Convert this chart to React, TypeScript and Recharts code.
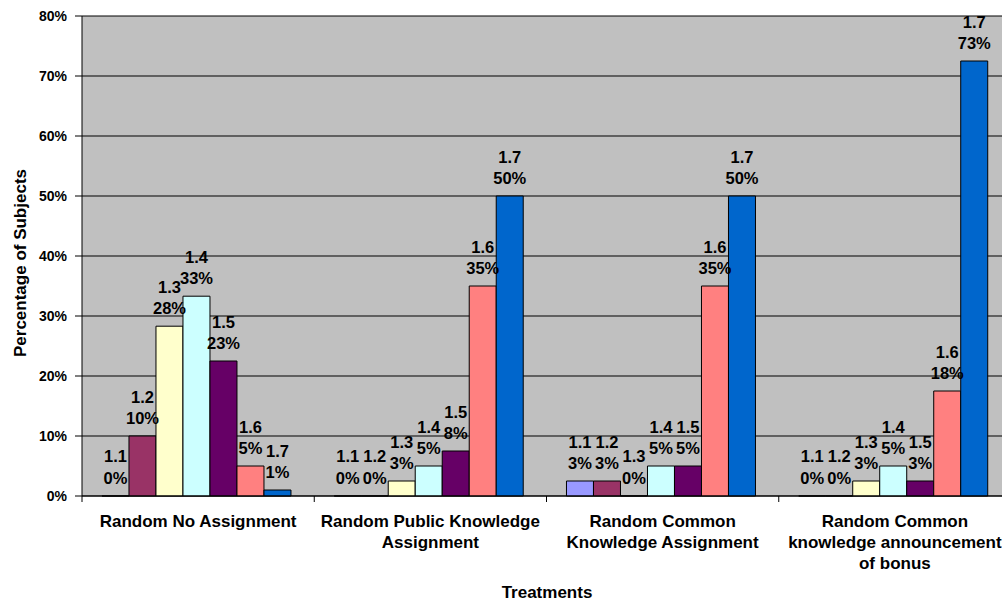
import React from "react";
import { BarChart, Bar, XAxis, YAxis, CartesianGrid, LabelList } from "recharts";

// カテゴリ（処理）
const categories = [
  "Random No Assignment",
  "Random Public Knowledge Assignment",
  "Random Common Knowledge Assignment",
  "Random Common knowledge announcement of bonus",
];

// 軸ラベルの改行
const categoryLines = [
  ["Random No Assignment"],
  ["Random Public Knowledge", "Assignment"],
  ["Random Common", "Knowledge Assignment"],
  ["Random Common", "knowledge announcement", "of bonus"],
];

// 系列ごとの値（%）
const s11 = [0, 0, 2.5, 0];
const s12 = [10, 0, 2.5, 0];
const s13 = [28.3, 2.5, 0, 2.5];
const s14 = [33.3, 5, 5, 5];
const s15 = [22.5, 7.5, 5, 2.5];
const s16 = [5, 35, 35, 17.5];
const s17 = [1, 50, 50, 72.5];

const seriesNames = ["1.1", "1.2", "1.3", "1.4", "1.5", "1.6", "1.7"];
const seriesValues = [s11, s12, s13, s14, s15, s16, s17];
const COLORS = ["#9999FF", "#993366", "#FFFFCC", "#CCFFFF", "#660066", "#FF8080", "#0066CC"];

const yTicks = [0, 10, 20, 30, 40, 50, 60, 70, 80];

const data = categories.map((name, i) => {
  const row: Record<string, string | number> = { name };
  seriesValues.forEach((vals, j) => {
    row["s" + j] = vals[i];
  });
  return row;
});

// レイアウト
const W = 1030;
const H = 604;
const LEFT = 82;
const RIGHT = 19;
const TOP = 16;
const XAXIS_H = 108;
const PLOT_BOTTOM = H - XAXIS_H;
const BAND = (W - LEFT - RIGHT) / categories.length;
const FONT = "'Liberation Sans', Arial, sans-serif";

function CategoryTick(props: any) {
  const { x, payload, index } = props;
  const idx = categories.indexOf(payload.value);
  const lines = categoryLines[idx] || [payload.value];
  return (
    <g>
      <line x1={x - BAND / 2} y1={PLOT_BOTTOM} x2={x - BAND / 2} y2={PLOT_BOTTOM + 6} stroke="#000" />
      {index === categories.length - 1 && (
        <line x1={x + BAND / 2} y1={PLOT_BOTTOM} x2={x + BAND / 2} y2={PLOT_BOTTOM + 6} stroke="#000" />
      )}
      <text x={x} y={PLOT_BOTTOM + 31} textAnchor="middle" fontSize={17} fontWeight="bold" fill="#000" fontFamily={FONT}>
        {lines.map((l, i) => (
          <tspan key={i} x={x} dy={i === 0 ? 0 : 21}>
            {l}
          </tspan>
        ))}
      </text>
    </g>
  );
}

const makeLabel = (name: string) => (props: any) => {
  const { x, y, width, height, value } = props;
  const cx = Number(x) + Number(width) / 2;
  // 0%の棒は高さがほぼ0なので下端を基準に
  const top = Math.min(Number(y), Number(y) + Number(height));
  return (
    <text x={cx} y={top - 12} textAnchor="middle" fontSize={16.5} fontWeight="bold" fill="#000" fontFamily={FONT}>
      <tspan x={cx} dy={-21.5}>{name}</tspan>
      <tspan x={cx} dy={21.5}>{Math.round(Number(value))}%</tspan>
    </text>
  );
};

const yTitle = () => (
  <text
    x={20}
    y={263}
    transform="rotate(-90, 20, 263)"
    textAnchor="middle"
    dominantBaseline="central"
    fontSize={17}
    fontWeight="bold"
    fill="#000"
    fontFamily={FONT}
  >
    Percentage of Subjects
  </text>
);

const xTitle = () => (
  <text x={547} y={598} textAnchor="middle" fontSize={17} fontWeight="bold" fill="#000" fontFamily={FONT}>
    Treatments
  </text>
);

export default function App() {
  return (
    <div
      style={{
        position: "absolute",
        left: 0,
        top: 0,
        width: 1002,
        height: 604,
        overflow: "hidden",
        background: "#fff",
        fontFamily: FONT,
      }}
    >
      <BarChart
        width={W}
        height={H}
        data={data}
        margin={{ top: TOP, right: RIGHT, left: 0, bottom: 0 }}
        barCategoryGap="8.6%"
        barGap={0}
      >
        {/* 背景とグリッド */}
        <CartesianGrid vertical={false} stroke="#000" fill="#C0C0C0" fillOpacity={1} />
        <XAxis
          dataKey="name"
          height={XAXIS_H}
          interval={0}
          axisLine={{ stroke: "#000" }}
          tickLine={false}
          tick={<CategoryTick />}
          label={xTitle}
        />
        <YAxis
          width={LEFT}
          domain={[0, 80]}
          ticks={yTicks}
          interval={0}
          tickFormatter={(v) => `${v}%`}
          axisLine={{ stroke: "#000" }}
          tickLine={{ stroke: "#000" }}
          tickSize={7}
          tickMargin={8}
          tick={{ fontSize: 14, fontWeight: "bold", fill: "#000", fontFamily: FONT }}
          label={yTitle}
        />
        {seriesNames.map((name, j) => (
          <Bar
            key={name}
            dataKey={"s" + j}
            name={name}
            fill={COLORS[j]}
            stroke="#000"
            strokeWidth={1}
            minPointSize={0.01}
            isAnimationActive={false}
          >
            <LabelList dataKey={"s" + j} content={makeLabel(name)} />
          </Bar>
        ))}
      </BarChart>
    </div>
  );
}
